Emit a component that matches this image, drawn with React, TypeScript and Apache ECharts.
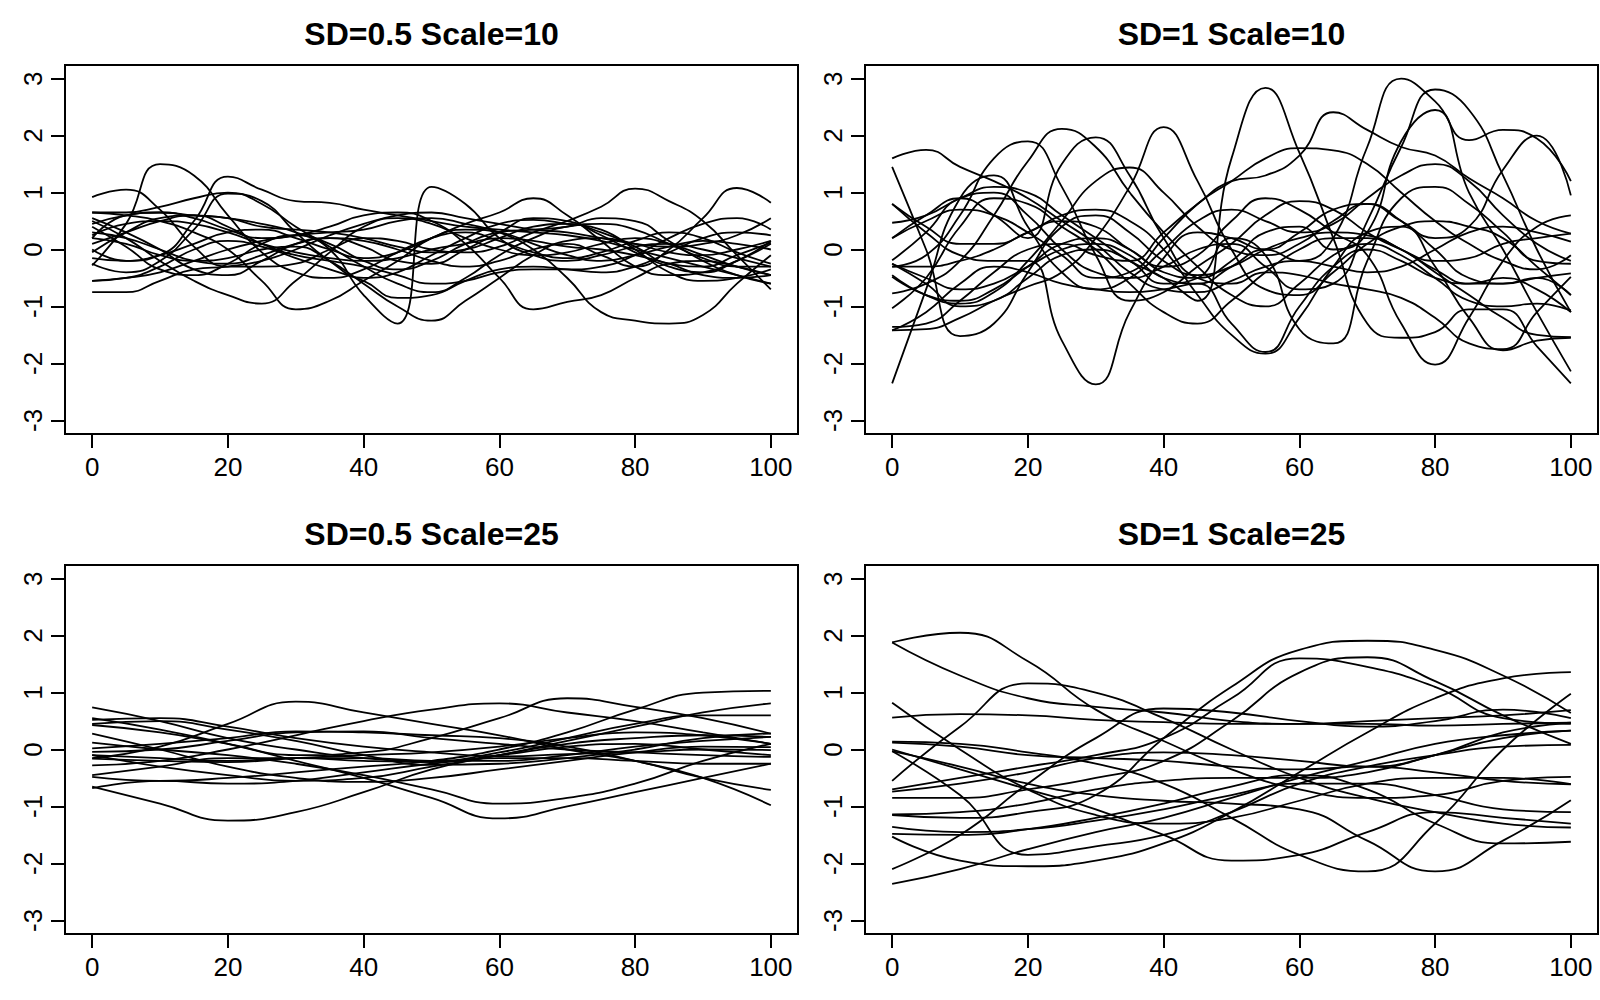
import { useEffect, useRef } from 'react'
import * as echarts from 'echarts'

const FONT = '"Liberation Sans", Arial, sans-serif'

const xTicks = [0, 20, 40, 60, 80, 100]
const yTicks = [-3, -2, -1, 0, 1, 2, 3]
// sample positions along x (scale 10 curves every 5, scale 25 curves every 10)
const xs10 = [0, 5, 10, 15, 20, 25, 30, 35, 40, 45, 50, 55, 60, 65, 70, 75, 80, 85, 90, 95, 100]
const xs25 = [0, 10, 20, 30, 40, 50, 60, 70, 80, 90, 100]

const titles = ['SD=0.5 Scale=10', 'SD=1 Scale=10', 'SD=0.5 Scale=25', 'SD=1 Scale=25']

const sd05Scale10 = [
  [-0.28, 0.45, 1.5, 1.3, 0.6, -0.05, -0.4, -0.5, -0.35, -0.05, 0.2, 0.3, 0.15, -0.05, -0.15, -0.05, 0.15, 0.3, 0.2, -0.05, -0.25],
  [0.1, 0.3, 0.5, 0.6, 0.55, 0.45, 0.3, 0.0, -0.8, -1.3, 1.1, 0.8, 0.2, -0.1, -0.2, -0.1, 0.05, 0.1, 0.0, -0.15, -0.3],
  [0.65, 0.6, 0.5, 0.3, 0.0, -0.55, -1.05, -0.9, -0.55, -0.2, 0.2, 0.35, 0.3, 0.1, -0.1, -0.2, -0.1, 0.05, 0.15, 0.1, 0.0],
  [0.5, 0.2, -0.2, -0.55, -0.8, -0.95, -0.55, -0.05, 0.4, 0.55, 0.45, 0.2, 0.0, -0.1, -0.05, 0.1, 0.2, 0.1, -0.1, -0.3, -0.45],
  [0.2, 0.1, -0.1, -0.2, -0.15, 0.0, 0.05, -0.2, -0.6, -1.0, -1.25, -0.9, -0.5, -0.1, 0.15, 0.2, 0.1, -0.05, -0.1, 0.0, 0.15],
  [0.45, 0.6, 0.65, 0.55, 0.35, 0.2, 0.25, 0.4, 0.6, 0.65, 0.5, 0.1, -0.5, -1.05, -0.92, -0.8, -0.5, -0.25, -0.2, -0.3, -0.45],
  [-0.55, -0.5, -0.4, -0.2, 0.0, 0.15, 0.25, 0.3, 0.35, 0.5, 0.55, 0.45, 0.3, 0.0, -0.5, -1.1, -1.25, -1.3, -1.15, -0.6, -0.1],
  [0.3, 0.2, 0.0, -0.2, -0.25, -0.1, 0.1, 0.2, 0.15, 0.0, -0.2, -0.3, -0.2, 0.0, 0.1, -0.1, -0.3, 0.0, 0.55, 1.08, 0.82],
  [0.92, 1.05, 0.7, 0.05, -0.3, -0.3, -0.25, 0.0, 0.2, 0.15, 0.0, -0.05, 0.05, 0.3, 0.5, 0.75, 1.07, 0.85, 0.5, -0.1, -0.7],
  [-0.15, -0.2, -0.1, 0.1, 0.3, 0.35, 0.2, 0.0, -0.15, -0.05, 0.2, 0.45, 0.65, 0.9, 0.6, 0.15, -0.3, -0.45, -0.4, -0.2, 0.1],
  [0.0, -0.2, -0.1, 0.5, 1.28, 1.05, 0.85, 0.82, 0.7, 0.6, 0.5, 0.4, 0.35, 0.3, 0.25, 0.15, 0.0, -0.15, -0.3, -0.45, -0.6],
  [0.65, 0.65, 0.75, 0.9, 1.0, 0.8, 0.4, 0.05, -0.3, -0.6, -0.75, -0.5, -0.1, 0.2, 0.4, 0.45, 0.35, 0.1, -0.15, -0.3, -0.3],
  [-0.25, -0.4, -0.2, 0.35, 0.98, 0.85, 0.3, -0.2, -0.5, -0.4, -0.1, 0.2, 0.45, 0.52, 0.45, 0.35, 0.0, -0.4, -0.55, -0.5, -0.35],
  [0.55, 0.3, 0.0, -0.35, -0.45, -0.2, 0.1, 0.2, 0.05, -0.2, -0.25, 0.0, 0.3, 0.55, 0.5, 0.25, -0.05, -0.3, -0.4, -0.2, 0.15],
  [-0.75, -0.75, -0.55, -0.35, -0.3, -0.2, 0.0, 0.25, 0.45, 0.6, 0.65, 0.55, 0.45, 0.35, 0.3, 0.2, 0.1, 0.05, 0.1, 0.25, 0.55],
  [0.25, 0.45, 0.5, 0.45, 0.3, 0.1, -0.05, -0.15, -0.2, -0.15, 0.0, 0.1, 0.2, 0.15, 0.05, 0.0, -0.1, -0.25, -0.45, -0.5, -0.45],
  [0.4, 0.05, -0.35, -0.45, -0.25, 0.1, 0.25, 0.1, -0.2, -0.35, -0.2, 0.1, 0.3, 0.35, 0.4, 0.55, 0.5, 0.15, -0.2, -0.45, -0.6],
  [-0.05, 0.3, 0.55, 0.6, 0.4, 0.1, -0.1, -0.2, -0.3, -0.45, -0.6, -0.55, -0.4, -0.35, -0.35, -0.3, -0.1, 0.2, 0.45, 0.55, 0.35],
  [0.2, 0.6, 0.65, 0.6, 0.55, 0.4, 0.35, 0.3, 0.2, 0.05, -0.05, 0.0, 0.2, 0.4, 0.45, 0.3, 0.05, -0.25, -0.3, -0.1, 0.12],
  [-0.55, -0.5, -0.3, 0.0, 0.15, 0.05, -0.15, -0.35, -0.55, -0.85, -0.8, -0.55, -0.35, -0.3, -0.35, -0.4, -0.3, -0.05, 0.2, 0.3, 0.25],
]

const sd1Scale10 = [
  [-2.35, -0.7, 0.9, 1.3, 0.4, -0.4, -0.7, -0.5, 0.0, 0.5, 0.7, 0.5, 0.3, 0.45, 0.9, 1.3, 1.5, 1.2, 0.6, 0.1, -0.2],
  [1.6, 1.75, 1.45, 1.2, 0.9, 0.5, 0.1, -0.4, -0.7, -0.75, -0.55, -0.3, -0.2, -0.3, -0.4, -0.3, 0.0, 0.3, 0.4, 0.3, 0.14],
  [1.45, 0.0, -1.52, -1.3, -0.4, 0.4, 0.6, 0.3, -0.2, -0.45, -0.3, 0.0, 0.2, 0.3, 0.25, 0.0, -0.35, -0.6, -0.6, -0.5, -0.42],
  [-0.3, -0.1, 0.6, 1.6, 1.9, 1.1, -0.1, -0.9, -0.75, -0.3, 0.1, 0.6, 0.85, 0.7, 0.3, 0.0, -0.2, -0.15, 0.1, 0.2, 0.28],
  [-0.77, -0.6, -0.2, 0.6, 1.55, 2.12, 1.8, 1.0, 0.3, -0.3, -0.8, -1.0, -0.6, -0.1, 0.1, -0.1, -0.5, -0.9, -1.0, -0.95, -1.07],
  [0.2, 0.6, 0.9, 0.6, 0.2, 1.5, 1.97, 1.3, 0.2, -0.5, -0.6, -0.4, -0.45, -0.6, -0.7, -0.85, -1.2, -1.65, -1.75, -1.1, -0.48],
  [0.8, 0.3, -0.1, -0.2, -0.2, -1.6, -2.37, -1.1, -0.15, 0.3, 0.2, 0.0, 0.3, 0.7, 0.8, 0.5, 0.0, -0.5, -0.6, -0.5, -0.8],
  [-1.42, -1.4, -1.2, -0.9, -0.65, -0.4, 0.2, 1.1, 2.15, 1.2, 0.0, -0.7, -0.8, -0.4, 0.1, 0.4, 0.5, 0.4, 0.2, -0.3, -0.8],
  [-0.45, -0.8, -0.95, -0.75, -0.2, 0.5, 1.2, 1.44, 1.0, 0.4, 0.0, -0.1, 0.1, 0.5, 0.8, 0.5, 0.2, 0.4, 1.4, 2.0, 0.95],
  [-1.03, -0.5, 0.4, 0.9, 0.8, 0.4, 0.0, -0.6, -1.1, -1.3, -0.9, -0.4, 0.0, 0.2, 0.2, 0.0, -0.4, -0.8, -1.2, -1.5, -1.54],
  [0.47, 0.6, 0.9, 1.1, 1.0, 0.6, 0.2, -0.2, -0.5, -0.9, 1.6, 2.84, 1.7, 0.2, -1.3, -1.55, -1.45, -1.05, -1.05, -1.7, -2.35],
  [-0.25, -0.5, -0.7, -0.6, -0.3, 0.0, 0.1, -0.1, -0.5, -0.6, -0.3, 0.0, -0.2, 0.2, 1.8, 3.0, 2.6, 1.92, 2.1, 1.95, 1.2],
  [-0.19, 0.3, 0.9, 1.0, 0.6, 0.0, -0.4, -0.5, -0.3, 0.0, 0.1, -0.3, -0.7, -0.6, 0.5, 1.8, 2.81, 2.45, 1.3, 0.0, -1.1],
  [-0.48, -0.8, -0.9, -0.7, -0.3, 0.1, 0.2, 0.0, -0.4, -0.5, -0.2, 0.3, 0.4, 0.0, 0.3, 1.9, 2.45, 1.0, 0.0, -1.1, -2.14],
  [-1.36, -1.3, -0.9, -0.4, 0.0, 0.1, -0.1, -0.2, 0.3, 0.8, 1.2, 1.3, 1.65, 2.41, 2.1, 1.8, 1.65, 1.25, 0.9, 0.5, 0.28],
  [0.2, 0.5, 0.7, 0.6, 0.3, -0.1, -0.5, -0.4, 0.2, 0.8, 1.2, 1.6, 1.78, 1.74, 1.5, 1.0, 0.5, 0.1, -0.2, -0.35, -0.1],
  [-0.25, -0.6, -1.0, -0.9, -0.5, -0.1, 0.0, -0.2, -0.6, -0.5, 0.2, -0.1, -1.4, -1.65, -0.2, 0.9, 1.1, 0.8, 0.3, -0.2, -0.25],
  [-0.3, -0.3, -0.2, 0.0, 0.3, 0.5, 0.4, 0.0, -0.3, -0.1, 0.5, 0.9, 0.7, 0.3, -0.1, -1.3, -2.02, -1.2, -0.2, 0.4, 0.6],
  [0.8, 0.4, 0.1, 0.1, 0.3, 0.6, 0.7, 0.5, 0.0, -0.8, -1.5, -1.83, -1.2, -0.3, 0.3, 0.4, -0.3, -1.2, -1.77, -1.6, -1.55],
  [-1.42, -1.1, -0.6, -0.3, -0.4, -0.6, -0.7, -0.75, -0.7, -0.6, -1.3, -1.8, -1.0, -0.3, 0.0, -0.2, -0.5, -0.6, -0.5, -0.7, -1.1],
]

const sd05Scale25 = [
  [-0.15, 0.05, 0.45, 0.84, 0.65, 0.45, 0.25, 0.0, -0.2, -0.5, -0.71],
  [-0.65, -0.95, -1.25, -1.1, -0.75, -0.35, -0.1, 0.1, 0.2, 0.25, 0.22],
  [0.55, 0.35, 0.1, -0.2, -0.5, -0.85, -1.21, -1.0, -0.75, -0.5, -0.25],
  [0.12, 0.0, -0.1, -0.25, -0.45, -0.7, -0.95, -0.85, -0.6, -0.2, 0.1],
  [-0.48, -0.55, -0.5, -0.4, -0.3, -0.2, 0.0, 0.3, 0.7, 1.0, 1.03],
  [0.43, 0.3, 0.1, -0.1, -0.05, 0.2, 0.55, 0.9, 0.75, 0.55, 0.28],
  [-0.28, -0.2, 0.0, 0.25, 0.5, 0.7, 0.81, 0.65, 0.5, 0.3, 0.1],
  [-0.1, -0.3, -0.45, -0.55, -0.5, -0.3, -0.1, 0.15, 0.4, 0.65, 0.81],
  [0.74, 0.5, 0.2, 0.0, -0.15, -0.2, -0.05, 0.2, 0.45, 0.6, 0.6],
  [0.52, 0.55, 0.4, 0.2, 0.05, -0.05, -0.12, -0.08, -0.05, 0.0, -0.01],
  [0.28, 0.0, -0.3, -0.5, -0.57, -0.5, -0.35, -0.2, -0.05, 0.05, 0.04],
  [-0.04, 0.0, 0.15, 0.3, 0.32, 0.2, 0.1, 0.0, -0.05, -0.1, -0.13],
  [-0.16, -0.2, -0.22, -0.15, -0.1, -0.05, 0.05, 0.2, 0.3, 0.25, 0.1],
  [-0.45, -0.3, -0.15, -0.15, -0.2, -0.22, -0.1, 0.05, 0.1, 0.0, -0.1],
  [-0.68, -0.55, -0.6, -0.55, -0.4, -0.25, -0.15, -0.15, -0.2, -0.25, -0.25],
  [0.02, 0.1, 0.2, 0.32, 0.3, 0.25, 0.2, 0.05, -0.2, -0.5, -0.98],
  [-0.1, -0.15, -0.2, -0.15, -0.15, -0.2, -0.2, -0.1, 0.05, 0.15, 0.22],
  [0.45, 0.5, 0.35, 0.15, -0.1, -0.27, -0.25, -0.15, 0.0, 0.2, 0.28],
]

const sd1Scale25 = [
  [1.88, 2.05, 1.55, 0.7, 0.15, -0.35, -0.7, -0.85, -0.8, -0.55, -0.48],
  [1.88, 1.3, 0.9, 0.75, 0.65, 0.5, 0.45, 0.5, 0.55, 0.6, 0.69],
  [-0.55, 0.4, 1.16, 1.0, 0.55, 0.0, -0.5, -0.85, -1.1, -1.3, -1.37],
  [0.82, 0.0, -0.7, -1.15, -1.3, -1.2, -0.9, -0.6, -0.5, -0.5, -0.61],
  [0.56, 0.62, 0.6, 0.52, 0.48, 0.45, 0.45, 0.45, 0.42, 0.45, 0.47],
  [-1.15, -1.2, -1.1, -0.8, 0.2, 1.1, 1.75, 1.91, 1.75, 1.3, 0.64],
  [-0.85, -0.85, -0.7, -0.5, -0.2, 0.5, 1.35, 1.62, 1.2, 0.6, 0.1],
  [-0.7, -0.5, -0.3, -0.1, 0.2, 0.9, 1.6, 1.45, 1.1, 0.55, 0.45],
  [0.14, 0.1, -0.05, -0.25, -0.6, -1.2, -1.85, -2.14, -1.3, 0.0, 0.98],
  [-0.03, -0.3, -0.6, -0.8, -0.9, -0.95, -1.05, -1.6, -2.14, -1.6, -0.89],
  [0.0, -0.35, -0.7, -1.05, -1.5, -1.95, -1.85, -1.45, -1.1, -1.2, -1.3],
  [-1.53, -1.95, -2.05, -1.95, -1.65, -1.1, -0.4, 0.3, 0.9, 1.25, 1.36],
  [-0.03, -0.8, -1.85, -1.7, -1.5, -1.1, -0.6, -0.3, -0.1, 0.05, 0.08],
  [-2.36, -2.1, -1.75, -1.45, -1.2, -0.85, -0.5, -0.2, 0.1, 0.25, 0.33],
  [-2.1, -1.5, -0.6, 0.2, 0.72, 0.65, 0.5, 0.4, 0.5, 0.7, 0.55],
  [0.12, 0.05, -0.1, -0.15, -0.2, -0.3, -0.35, -0.3, -0.4, -0.55, -0.61],
  [-1.14, -1.1, -0.95, -0.7, -0.55, -0.5, -0.5, -0.4, -0.1, 0.2, 0.33],
  [-1.36, -1.45, -1.4, -1.25, -1.05, -0.8, -0.6, -0.6, -0.8, -1.05, -1.1],
  [-1.48, -1.5, -1.4, -1.2, -0.95, -0.65, -0.45, -0.7, -1.3, -1.65, -1.62],
  [-0.74, -0.6, -0.4, -0.15, -0.05, -0.1, -0.2, -0.3, -0.1, 0.3, 0.47],
]

const panels = [
  { title: titles[0], xs: xs10, curves: sd05Scale10, left: 65, top: 65 },
  { title: titles[1], xs: xs10, curves: sd1Scale10, left: 865, top: 65 },
  { title: titles[2], xs: xs25, curves: sd05Scale25, left: 65, top: 565 },
  { title: titles[3], xs: xs25, curves: sd1Scale25, left: 865, top: 565 },
]

const PW = 733
const PH = 369

function buildOption() {
  const grid: any[] = []
  const xAxis: any[] = []
  const yAxis: any[] = []
  const series: any[] = []
  const graphic: any[] = []

  panels.forEach((p, i) => {
    grid.push({
      left: p.left,
      top: p.top,
      width: PW,
      height: PH,
      show: true,
      borderColor: '#000',
      borderWidth: 2,
      backgroundColor: 'transparent',
      containLabel: false,
    })
    xAxis.push({
      type: 'value',
      gridIndex: i,
      min: -4,
      max: 104,
      axisLine: { show: false, onZero: false },
      axisTick: { show: true, length: 14, customValues: xTicks, lineStyle: { color: '#000', width: 2 } },
      axisLabel: { customValues: xTicks, margin: 20, fontSize: 26, color: '#000', fontFamily: FONT },
      splitLine: { show: false },
    })
    yAxis.push({
      type: 'value',
      gridIndex: i,
      min: -3.24,
      max: 3.24,
      axisLine: { show: false, onZero: false },
      axisTick: { show: true, length: 14, customValues: yTicks, lineStyle: { color: '#000', width: 2 } },
      axisLabel: { customValues: yTicks, rotate: 90, margin: 19, fontSize: 26, color: '#000', fontFamily: FONT },
      splitLine: { show: false },
    })
    p.curves.forEach((ys) => {
      series.push({
        type: 'line',
        xAxisIndex: i,
        yAxisIndex: i,
        data: p.xs.map((x, j) => [x, ys[j]]),
        smooth: true,
        symbol: 'none',
        silent: true,
        lineStyle: { color: '#000', width: 1.8 },
      })
    })
    graphic.push({
      type: 'text',
      x: p.left + PW / 2,
      y: p.top - 31,
      style: {
        text: p.title,
        font: `bold 32px ${FONT}`,
        fill: '#000',
        textAlign: 'center',
        textVerticalAlign: 'middle',
        align: 'center',
        verticalAlign: 'middle',
      },
    })
  })

  return { animation: false, backgroundColor: '#fff', grid, xAxis, yAxis, series, graphic }
}

export default function App() {
  const chartRef = useRef<HTMLDivElement>(null)

  useEffect(() => {
    if (!chartRef.current) return
    const chart = echarts.init(chartRef.current, undefined, { renderer: 'svg' })
    chart.setOption(buildOption())

    const handleResize = () => {
      chart.resize()
    }
    window.addEventListener('resize', handleResize)

    return () => {
      window.removeEventListener('resize', handleResize)
      chart.dispose()
    }
  }, [])

  return (
    <div
      ref={chartRef}
      style={{ position: 'absolute', left: 0, top: 0, width: '1600px', height: '1000px', background: '#fff' }}
    />
  )
}
